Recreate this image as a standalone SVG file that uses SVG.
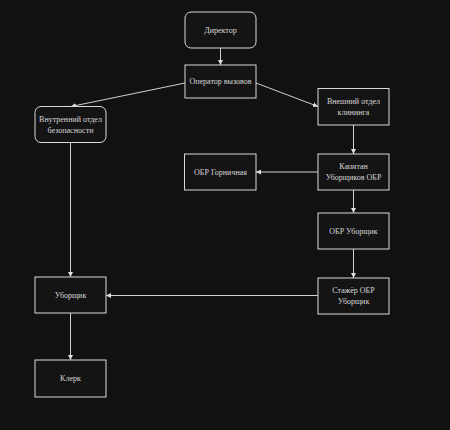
<svg xmlns="http://www.w3.org/2000/svg" width="450" height="430" viewBox="0 0 450 430">
<style>
.box{fill:#141414;stroke:#d9d9d9;stroke-width:1}
.t{font-family:"Liberation Serif","Times New Roman",serif;font-size:8px;fill:#d8d8d8;text-anchor:middle;dominant-baseline:central}
.c{fill:none;stroke:#d0d0d0;stroke-width:1;marker-end:url(#a)}
</style>
<defs>
<marker id="a" viewBox="0 0 10 10" refX="10" refY="5" markerWidth="5" markerHeight="5" orient="auto" markerUnits="userSpaceOnUse">
<path d="M0,0 L10,5 L0,10 z" fill="#e0e0e0"/>
</marker>
</defs>
<rect width="450" height="430" fill="#111111"/>
<g id="connectors">
<line class="c" x1="220.5" y1="48" x2="220.5" y2="65"/>
<line class="c" x1="185" y1="83" x2="71" y2="106.5"/>
<line class="c" x1="256" y1="83" x2="318" y2="106.5"/>
<line class="c" x1="70.5" y1="142.5" x2="70.5" y2="277"/>
<line class="c" x1="70.5" y1="313" x2="70.5" y2="360"/>
<line class="c" x1="353.5" y1="125" x2="353.5" y2="154"/>
<line class="c" x1="318" y1="172" x2="256" y2="172"/>
<line class="c" x1="353.5" y1="190" x2="353.5" y2="213"/>
<line class="c" x1="353.5" y1="249" x2="353.5" y2="278"/>
<line class="c" x1="318" y1="295.5" x2="106" y2="295.5"/>
</g>
<g id="director"><rect class="box" x="185" y="12" width="71" height="36" rx="6"/><text class="t" x="220.5" y="30">Директор</text></g>
<g id="operator"><rect class="box" x="185" y="65" width="71" height="33"/><text class="t" x="220.5" y="81.5">Оператор вызовов</text></g>
<g id="internal"><rect class="box" x="35" y="106.5" width="71" height="36" rx="6"/><text class="t" x="70.5" y="119.5">Внутренний отдел</text><text class="t" x="70.5" y="130">безопасности</text></g>
<g id="external"><rect class="box" x="318" y="88.5" width="71" height="36.5"/><text class="t" x="353.5" y="101.5">Внешний отдел</text><text class="t" x="353.5" y="112">клининга</text></g>
<g id="maid"><rect class="box" x="184.5" y="154" width="71.5" height="36"/><text class="t" x="220.5" y="172">ОБР Горничная</text></g>
<g id="captain"><rect class="box" x="318" y="154" width="71" height="36"/><text class="t" x="353.5" y="166.5">Капитан</text><text class="t" x="353.5" y="177">Уборщиков ОБР</text></g>
<g id="obrcleaner"><rect class="box" x="318" y="213" width="71" height="36"/><text class="t" x="353.5" y="231">ОБР Уборщик</text></g>
<g id="trainee"><rect class="box" x="318" y="278" width="71" height="36"/><text class="t" x="353.5" y="290.5">Стажёр ОБР</text><text class="t" x="353.5" y="301">Уборщик</text></g>
<g id="cleaner"><rect class="box" x="35" y="277" width="71" height="36"/><text class="t" x="70.5" y="295">Уборщик</text></g>
<g id="clerk"><rect class="box" x="35" y="360" width="71" height="37"/><text class="t" x="70.5" y="378.5">Клерк</text></g>
</svg>
